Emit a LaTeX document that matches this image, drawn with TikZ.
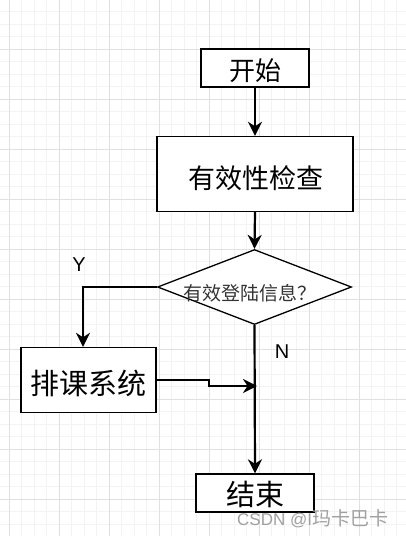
\documentclass[tikz,border=0pt]{standalone}
\usepackage{fontspec}
\setmainfont{Liberation Sans}
\newfontfamily\cjk{Noto Sans CJK SC}
\usetikzlibrary{arrows.meta,shapes.geometric}
\definecolor{gridminor}{HTML}{F3F3F3}
\definecolor{gridmajor}{HTML}{E0E0E0}
\definecolor{wm}{HTML}{A0A0A0}
\begin{document}
\begin{tikzpicture}[x=1pt,y=-1pt,
  box/.style={draw=black,line width=1.4pt,fill=white,inner sep=0pt,font=\cjk},
  flow/.style={line width=2.2pt,-{Stealth[length=14pt,width=14pt,inset=4.5pt]}},
  yn/.style={font=\fontsize{20}{20}\selectfont}]
\useasboundingbox (0,0) rectangle (406,536);
\fill[white] (0,0) rectangle (406,536);
% grid
\foreach \i in {0,...,33} {
  \draw[gridminor,line width=0.8pt] ({-3.5+12.5*\i},0) -- ({-3.5+12.5*\i},536);
}
\foreach \j in {0,...,43} {
  \draw[gridminor,line width=0.8pt] (0,{-0.7+12.5*\j}) -- (406,{-0.7+12.5*\j});
}
\foreach \i in {0,...,8} {
  \draw[gridmajor,line width=0.9pt] ({9+50*\i},0) -- ({9+50*\i},536);
}
\foreach \j in {1,...,10} {
  \draw[gridmajor,line width=0.9pt] (0,{-0.7+50*\j}) -- (406,{-0.7+50*\j});
}
% nodes
\node[box,minimum width=108pt,minimum height=38pt] (start) at (255,68) {};
\node[font=\cjk\fontsize{26}{26}\selectfont] (starttext) at (255,71) {开始};
\node[box,minimum width=196pt,minimum height=75pt] (check) at (255,174) {};
\node[font=\cjk\fontsize{27}{27}\selectfont] (checktext) at (256,178) {有效性检查};
\node[diamond,draw=black,line width=1.3pt,fill=white,inner sep=0pt,
      minimum width=194pt,minimum height=75pt] (dec) at (254.5,287) {};
\node[font=\cjk\fontsize{19}{19}\selectfont,text=black!80] (dectext) at (250,293) {有效登陆信息？};
\node[box,minimum width=135pt,minimum height=65pt] (sched) at (88.5,380) {};
\node[font=\cjk\fontsize{29}{29}\selectfont] (schedtext) at (88.5,383) {排课系统};
\node[box,minimum width=118pt,minimum height=38pt] (end) at (255,493) {};
\node[font=\cjk\fontsize{29}{29}\selectfont] (endtext) at (255,494) {结束};
\coordinate (join) at (257,386);
% connectors
\draw[flow] (start.south) -- (check.north);
\draw[flow] (check.south) -- (dec.north);
\draw[flow] (dec.west) -| ([xshift=-5.5pt]sched.north);
\draw[flow] (dec.south) -- (end.north);
\draw[flow] (sched.east) -- ++(52,0) |- (join);
% labels
\node[yn] (ylab) at (79,265) {Y};
\node[yn] (nlab) at (282,352) {N};
% watermark
\node[text=wm,inner sep=0pt,anchor=west] (wmark) at (237,519)
  {\fontsize{17}{17}\selectfont CSDN @I\cjk\fontsize{19}{19}\selectfont 玛卡巴卡};
\end{tikzpicture}
\end{document}
